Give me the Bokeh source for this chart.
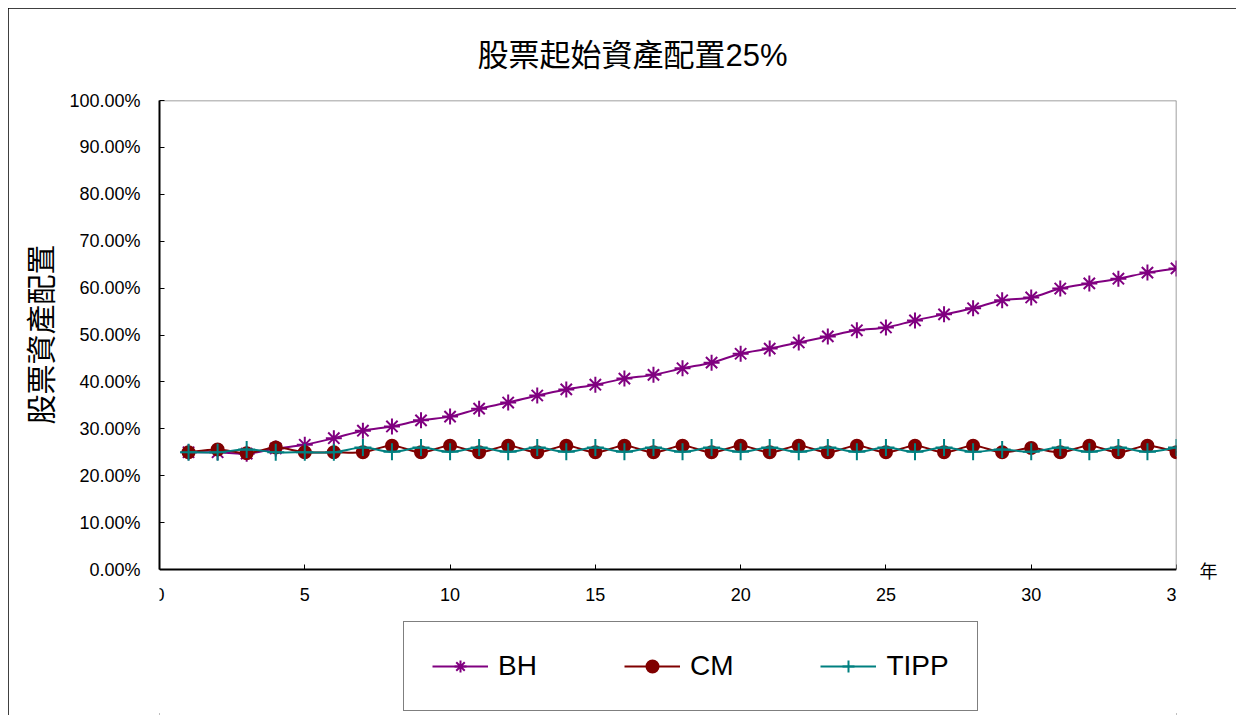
from bokeh.plotting import figure
from bokeh.models import (ColumnDataSource, Legend, LegendItem, Range1d,
                          LinearAxis, FixedTicker, Title)
from bokeh.embed import file_html
from bokeh.resources import INLINE

# ---- data (percent) ----
years = list(range(1, 36))
bh = [25.0, 25.0, 24.7, 25.8, 26.6, 28.0, 29.6, 30.5, 31.8, 32.6,
      34.3, 35.6, 37.1, 38.4, 39.4, 40.7, 41.5, 42.9, 44.1, 46.0,
      47.1, 48.4, 49.7, 51.0, 51.6, 53.1, 54.4, 55.7, 57.4, 58.0,
      59.9, 61.0, 62.0, 63.3, 64.2]
cm = [25.0, 25.6, 24.8, 26.0, 25.0, 25.0, 25.0, 26.4, 25.0, 26.4,
      25.0, 26.4, 25.0, 26.4, 25.0, 26.4, 25.0, 26.4, 25.0, 26.4,
      25.0, 26.4, 25.0, 26.4, 25.0, 26.4, 25.0, 26.4, 25.0, 25.9,
      25.0, 26.4, 25.0, 26.4, 25.0]
tipp = [25.0, 25.0, 25.6, 25.0, 25.0, 25.0, 26.0, 25.1, 26.0, 25.1,
        26.0, 25.1, 26.0, 25.1, 26.0, 25.1, 26.0, 25.1, 26.0, 25.1,
        26.0, 25.1, 26.0, 25.1, 26.0, 25.1, 26.0, 25.1, 25.6, 25.1,
        26.0, 25.1, 26.0, 25.1, 26.0]
series_names = ["BH", "CM", "TIPP"]
x_ticks = [0, 5, 10, 15, 20, 25, 30, 35]
y_ticks = [0, 10, 20, 30, 40, 50, 60, 70, 80, 90, 100]
title_text = "股票起始資產配置25%"
y_label = "股票資產配置"
x_unit = "年"

SANS = "Liberation Sans, Noto Sans CJK TC"
CJK = "Noto Sans CJK TC"

# layout: plot area 469 px tall, with 146 px below it (ticks + legend)
PLOT_H, BELOW_H = 469, 146
y_bottom = y_ticks[0] - (y_ticks[-1] - y_ticks[0]) * BELOW_H / PLOT_H


def smooth_source(xs, ys):
    """Bezier control points (Catmull-Rom style, as Excel smoothed lines)."""
    n = len(xs)
    d = dict(x0=[], y0=[], x1=[], y1=[], cx0=[], cy0=[], cx1=[], cy1=[])
    for i in range(n - 1):
        pm = max(i - 1, 0)
        pp = min(i + 2, n - 1)
        d["x0"].append(xs[i]); d["y0"].append(ys[i])
        d["x1"].append(xs[i + 1]); d["y1"].append(ys[i + 1])
        d["cx0"].append(xs[i] + (xs[i + 1] - xs[pm]) / 6.0)
        d["cy0"].append(ys[i] + (ys[i + 1] - ys[pm]) / 6.0)
        d["cx1"].append(xs[i + 1] - (xs[pp] - xs[i]) / 6.0)
        d["cy1"].append(ys[i + 1] - (ys[pp] - ys[i]) / 6.0)
    return ColumnDataSource(d)


p = figure(width=1228, height=707, output_backend="svg",
           toolbar_location=None,
           x_range=Range1d(x_ticks[0], x_ticks[-1]),
           y_range=Range1d(y_bottom, y_ticks[-1]),
           min_border_left=141, min_border_right=60, min_border_top=92,
           min_border_bottom=0)
p.styles = {"margin-left": "8px", "margin-top": "8px",
            "outline": "2px solid black", "outline-offset": "-2px"}
p.background_fill_color = "white"
p.border_fill_color = "white"
p.outline_line_color = None
p.grid.visible = False

# plot-area border (top and right, grey)
p.segment(x0=[x_ticks[0], x_ticks[-1]], y0=[y_ticks[-1], y_ticks[0]],
          x1=[x_ticks[-1], x_ticks[-1]], y1=[y_ticks[-1], y_ticks[-1]],
          line_color="#808080", line_width=1.5)

# title
p.title.text = title_text
p.title.align = "left"
p.title.offset = 318
p.title.standoff = 55
p.title.text_font = SANS
p.title.text_font_size = "31px"
p.title.text_font_style = "normal"
p.title.text_color = "black"

for ax in (p.xaxis, p.yaxis):
    ax.axis_line_color = "black"
    ax.axis_line_width = 2
    ax.major_tick_in = 5
    ax.major_tick_out = 0
    ax.major_tick_line_color = "black"
    ax.major_tick_line_width = 1
    ax.minor_tick_line_color = None
    ax.major_label_text_font = SANS
    ax.major_label_text_font_size = "18px"
    ax.major_label_text_color = "black"

p.xaxis.ticker = x_ticks
p.xaxis.fixed_location = y_ticks[0]
p.xaxis.major_label_standoff = 18
p.yaxis.ticker = y_ticks
p.yaxis.bounds = (y_ticks[0], y_ticks[-1])
p.yaxis.major_label_overrides = {t: f"{t:.2f}%" for t in y_ticks}
p.yaxis.major_label_standoff = 19

# vertical axis title, placed over the 0-100% span
p.add_layout(Title(text=y_label, align="right", offset=144, standoff=12,
                   text_font=CJK, text_font_size="30px",
                   text_font_style="normal", text_color="black"), "left")

# unit label "年" to the right of the x axis end
unit_axis = LinearAxis(ticker=FixedTicker(ticks=[y_ticks[0]]),
                       major_label_overrides={y_ticks[0]: x_unit},
                       axis_line_color=None, major_tick_line_color=None,
                       minor_tick_line_color=None, major_label_standoff=17,
                       major_label_text_font=CJK,
                       major_label_text_font_size="18px",
                       major_label_text_color="black")
p.add_layout(unit_axis, "right")

colors = {"BH": "#800080", "CM": "#800000", "TIPP": "#008080"}
data = {"BH": bh, "CM": cm, "TIPP": tipp}
markers = {"BH": ("asterisk", 16), "CM": ("circle", 12), "TIPP": ("cross", 17)}

items = []
for name in series_names:
    c = colors[name]
    src = smooth_source(years, data[name])
    curve = p.bezier(x0="x0", y0="y0", x1="x1", y1="y1", cx0="cx0", cy0="cy0",
                     cx1="cx1", cy1="cy1", source=src, line_color=c,
                     line_width=2)
    mk, sz = markers[name]
    pts = p.scatter(x=years, y=data[name], marker=mk, size=sz, line_color=c,
                    fill_color=c, line_width=2)
    items.append(LegendItem(label=name, renderers=[curve, pts]))

legend = Legend(items=items, orientation="horizontal", location=(244, 4),
                border_line_color="black", border_line_width=1,
                background_fill_color="white", background_fill_alpha=1,
                label_text_font=SANS, label_text_font_size="28px",
                label_text_color="black",
                glyph_width=56, glyph_height=30, label_standoff=10,
                spacing=87, padding=28, margin=0)
p.add_layout(legend)

open("out.html", "w").write(file_html(p, INLINE))
